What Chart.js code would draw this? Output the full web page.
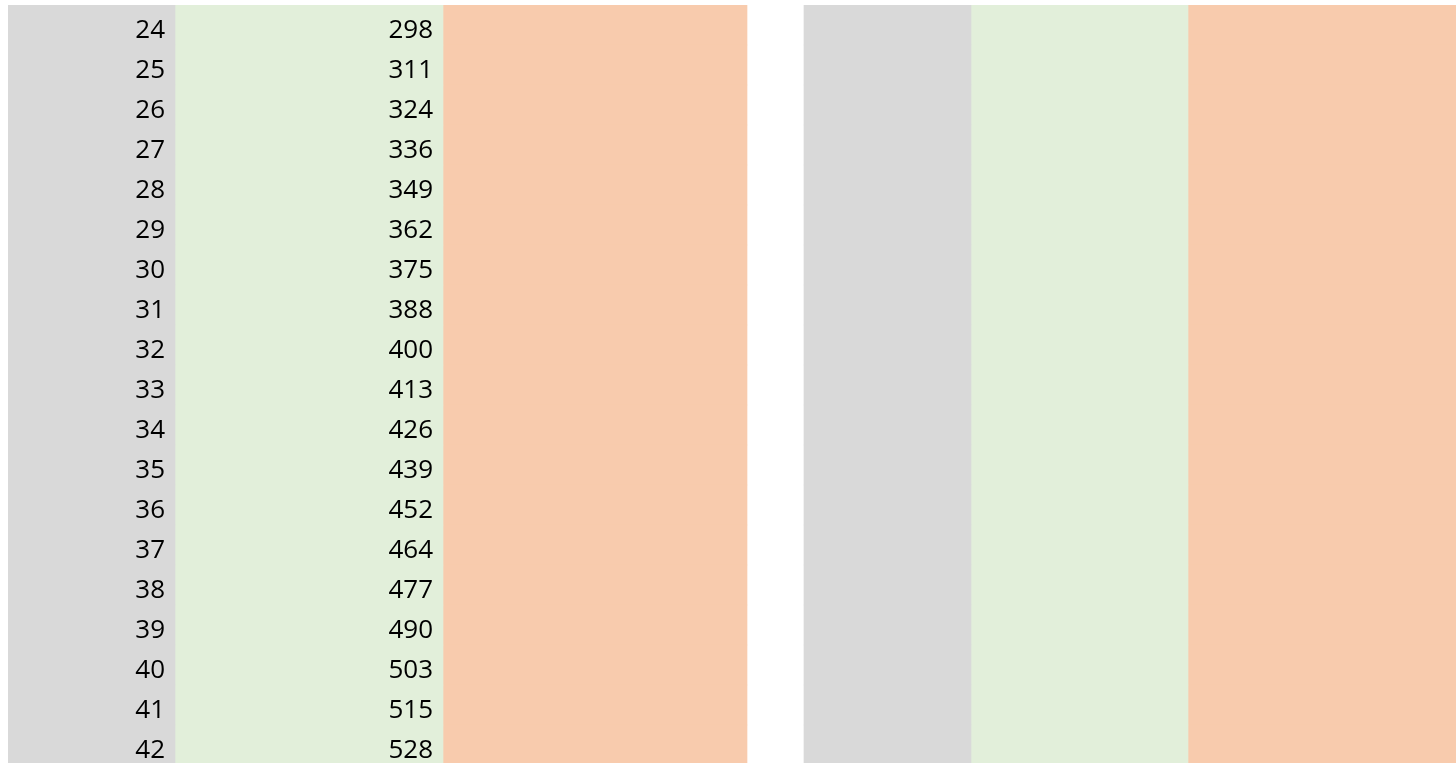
<!DOCTYPE html>
<html>
<head>
<meta charset="utf-8">
<script src="https://cdn.jsdelivr.net/npm/chart.js@4"></script>
<style>
    html, body { margin: 0; padding: 0; background: #fff; overflow: hidden; }
    canvas { display: block; }
</style>
</head>
<body>
<canvas id="sheet" width="1456" height="765"></canvas>
<script>
// rows of the sheet
const rowNumbers = [24, 25, 26, 27, 28, 29, 30, 31, 32, 33, 34, 35, 36, 37, 38, 39, 40, 41, 42];
const rowValues = [298, 311, 324, 336, 349, 362, 375, 388, 400, 413, 426, 439, 452, 464, 477, 490, 503, 515, 528];

// column widths of the two blocks (gray, green, orange, gap, gray, green, orange)
const colWidths = [167, 268, 304, 57, 167, 217, 268];
const colFills = ['#D9D9D9', '#E2EFDA', '#F8CBAD', 'rgba(0,0,0,0)', '#D9D9D9', '#E2EFDA', '#F8CBAD'];

const sheet = document.getElementById('sheet');

const cellText = {
    id: 'cellText',
    afterDatasetsDraw: function(chart) {
        const ctx = chart.ctx;
        ctx.save();
        ctx.font = '26px "Open Sans"';
        ctx.fillStyle = '#000';
        ctx.textAlign = 'right';
        ctx.textBaseline = 'alphabetic';
        [rowNumbers, rowValues].forEach(function(texts, di) {
            chart.getDatasetMeta(di).data.forEach(function(bar, i) {
                const bottom = bar.y + bar.height / 2;
                ctx.fillText(String(texts[i]), bar.x - 10, bottom - 7);
            });
        });
        ctx.restore();
    }
};

new Chart(sheet, {
    type: 'bar',
    plugins: [cellText],
    data: {
        labels: rowNumbers,
        datasets: colWidths.map(function(w, c) {
            return {
                label: 'col' + c,
                data: rowNumbers.map(function() { return w; }),
                backgroundColor: colFills[c],
                borderWidth: 0,
                barPercentage: 1,
                categoryPercentage: 1
            };
        })
    },
    options: {
        indexAxis: 'y',
        responsive: false,
        animation: false,
        layout: {
            padding: { left: 8, top: 5, right: 0, bottom: 0 }
        },
        plugins: {
            legend: { display: false },
            tooltip: { enabled: false }
        },
        scales: {
            x: {
                display: false,
                stacked: true,
                min: 0,
                max: colWidths.reduce(function(a, b) { return a + b; }, 0)
            },
            y: {
                display: false,
                stacked: true
            }
        }
    }
});
</script>
</body>
</html>
